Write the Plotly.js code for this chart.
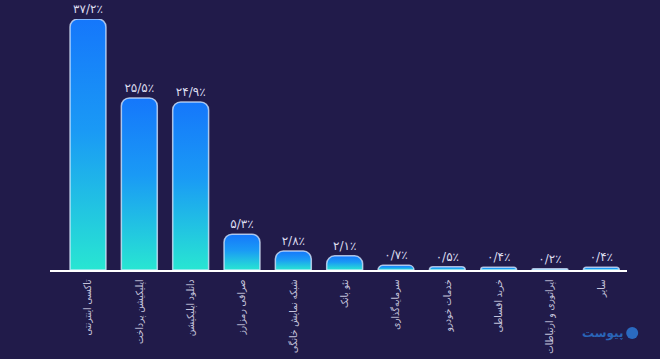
<!DOCTYPE html>
<html>
<head>
<meta charset="utf-8">
<script src="https://cdn.plot.ly/plotly-3.0.1.min.js"></script>
<style>
html,body{margin:0;padding:0;background:#211b4a;}
#chart{width:660px;height:359px;}
</style>
</head>
<body>
<div id="chart"></div>
<script>
const categories = ["تاکسی اینترنتی","اپلیکیشن پرداخت","دانلود اپلیکیشن","صرافی رمزارز","شبکه نمایش خانگی","نئو بانک","سرمایه‌گذاری","خدمات خودرو","خرید اقساطی","اپراتوری و ارتباطات","سایر"];
const values = [37.2, 25.5, 24.9, 5.3, 2.8, 2.1, 0.7, 0.5, 0.4, 0.2, 0.4];

const faDigits = "۰۱۲۳۴۵۶۷۸۹";
function toFa(v){
  return v.toFixed(1).replace(/\d/g, d => faDigits[+d]).replace(".", "/") + "٪";
}
const labels = values.map(toFa);

const font = "DejaVu Sans, Noto Sans, sans-serif";
const tickFontFamily = "DejaVu Sans Condensed, DejaVu Sans, sans-serif";

const trace = {
  type: "bar",
  x: categories,
  y: values,
  text: labels,
  textposition: "outside",
  cliponaxis: false,
  constraintext: "none",
  textfont: {family: font, size: 12, color: "#dcdcee"},
  width: 0.7,
  marker: {
    color: "#1e9cf5",
    cornerradius: 8,
    line: {color: "rgba(220,235,255,0.75)", width: 1.5}
  },
  hoverinfo: "none"
};

const layout = {
  width: 660,
  height: 359,
  paper_bgcolor: "#211b4a",
  plot_bgcolor: "#211b4a",
  margin: {l: 50, r: 33, t: 19, b: 89},
  showlegend: false,
  xaxis: {
    type: "category",
    range: [-0.74, 10.5],
    showgrid: false,
    zeroline: false,
    showline: true,
    linecolor: "#ffffff",
    linewidth: 1.5,
    ticks: "",
    ticklabelstandoff: 4,
    tickangle: -90,
    tickfont: {family: tickFontFamily, size: 10, color: "#c4c4dc"},
    automargin: false,
    fixedrange: true
  },
  yaxis: {
    range: [0, 37.2],
    showgrid: false,
    zeroline: false,
    showline: false,
    showticklabels: false,
    ticks: "",
    fixedrange: true
  },
  shapes: [{
    type: "circle", xref: "paper", yref: "paper",
    xsizemode: "pixel", ysizemode: "pixel",
    xanchor: 1.009, yanchor: -0.251,
    x0: -6, x1: 6, y0: -6, y1: 6,
    fillcolor: "#2a6ac0", line: {width: 0}
  }],
  annotations: [{
    xref: "paper", yref: "paper", x: 0.996, y: -0.251,
    xanchor: "right", yanchor: "middle",
    text: "<b>پیوست</b>", showarrow: false,
    font: {family: font, size: 12, color: "#2a65b8"}
  }]
};

Plotly.newPlot("chart", [trace], layout, {displayModeBar: false, staticPlot: true}).then(function(gd){
  const svgNS = "http://www.w3.org/2000/svg";
  const svg = gd.querySelector(".main-svg");
  let defs = svg.querySelector("defs");
  if(!defs){ defs = document.createElementNS(svgNS, "defs"); svg.insertBefore(defs, svg.firstChild); }
  const grad = document.createElementNS(svgNS, "linearGradient");
  grad.setAttribute("id", "barGrad");
  grad.setAttribute("x1", "0"); grad.setAttribute("y1", "0");
  grad.setAttribute("x2", "0"); grad.setAttribute("y2", "1");
  [["0%", "#1577fb"], ["45%", "#1a9af5"], ["100%", "#28e6d2"]].forEach(function(s){
    const st = document.createElementNS(svgNS, "stop");
    st.setAttribute("offset", s[0]);
    st.setAttribute("stop-color", s[1]);
    grad.appendChild(st);
  });
  defs.appendChild(grad);
  gd.querySelectorAll(".bars .point path").forEach(function(p){
    p.style.fill = "url(#barGrad)";
  });
});
</script>
</body>
</html>
